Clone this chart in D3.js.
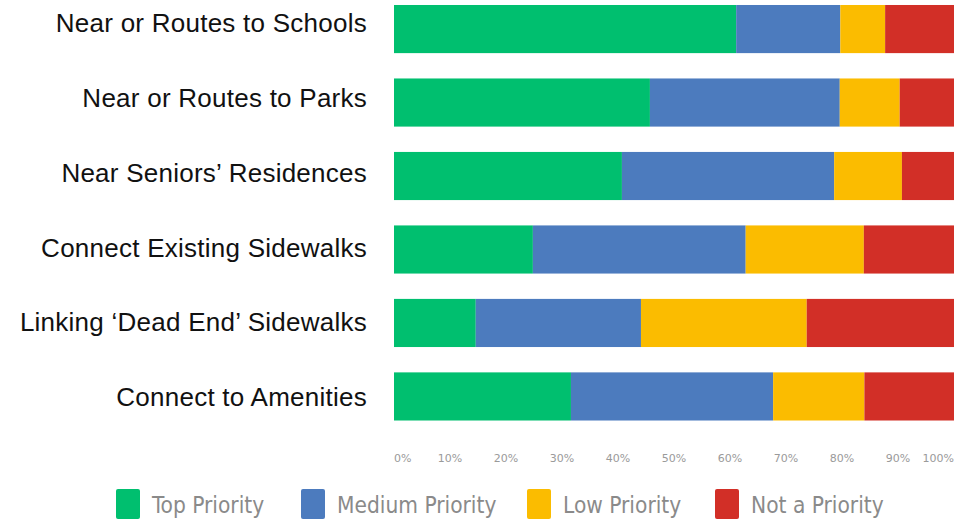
<!DOCTYPE html>
<html><head><meta charset="utf-8">
<script src="https://cdn.jsdelivr.net/npm/d3@7"></script>
<style>body{margin:0;background:#fff}svg{display:block}</style>
</head><body><div id="chart"></div>
<script>
const categories = ["Near or Routes to Schools","Near or Routes to Parks","Near Seniors\u2019 Residences","Connect Existing Sidewalks","Linking \u2018Dead End\u2019 Sidewalks","Connect to Amenities"];
const seriesNames = ["Top Priority","Medium Priority","Low Priority","Not a Priority"];
const topPriority    = [61.1, 45.7, 40.7, 24.8, 14.6, 31.6];
const mediumPriority = [18.6, 33.9, 37.9, 38.0, 29.5, 36.1];
const lowPriority    = [8.0, 10.7, 12.1, 21.1, 29.6, 16.3];
const notPriority    = [12.3, 9.7, 9.3, 16.1, 26.3, 16.0];
const tickValues = [0,10,20,30,40,50,60,70,80,90,100];
const colors = ["#00BF6F","#4C7BBE","#FBBC00","#D22F27"];

const W = 969, H = 519;
const svg = d3.select("#chart").append("svg").attr("width", W).attr("height", H);
const x = d3.scaleLinear().domain([0,100]).range([394,954]);
const y = d3.scaleBand().domain(categories).range([-7.5,433]).paddingInner(0.345).paddingOuter(0.17);
const yLabel = d3.scalePoint().domain(categories).range([23,397]);

const rows = categories.map((c,i)=>({cat:c, Top:topPriority[i], Med:mediumPriority[i], Low:lowPriority[i], Not:notPriority[i]}));
const keys = ["Top","Med","Low","Not"];
const stack = d3.stack().keys(keys)(rows);

svg.append("g").selectAll("g").data(stack).join("g")
  .attr("fill",(d,i)=>colors[i])
  .selectAll("rect").data(d=>d).join("rect")
  .attr("x",d=>x(d[0])).attr("width",d=>x(Math.min(d[1],100))-x(d[0]))
  .attr("y",d=>y(d.data.cat)).attr("height",y.bandwidth());

svg.append("g").selectAll("text").data(categories).join("text")
  .attr("x",367).attr("y",d=>yLabel(d)).attr("dy","0.35em")
  .attr("text-anchor","end").attr("font-family","Liberation Sans, Arial, sans-serif")
  .attr("font-size",26).attr("letter-spacing",0.25).attr("fill","#111").text(d=>d);

svg.append("g").selectAll("text").data(tickValues).join("text")
  .attr("x",d=>x(d)).attr("y",458).attr("dy","0.35em")
  .attr("text-anchor",d=>d===0?"start":(d===100?"end":"middle"))
  .attr("font-family","DejaVu Sans, sans-serif").attr("font-size",11)
  .attr("fill","#9a9a9a").text(d=>d+"%");

const legendX = [116,301,527,715];
const lg = svg.append("g").selectAll("g").data(seriesNames).join("g")
  .attr("transform",(d,i)=>`translate(${legendX[i]},489)`);
lg.append("rect").attr("width",24).attr("height",30).attr("rx",2).attr("fill",(d,i)=>colors[i]);
lg.append("text").attr("x",36).attr("y",16).attr("dy","0.35em")
  .attr("font-family","DejaVu Sans Condensed, DejaVu Sans, sans-serif").attr("font-weight",300)
  .attr("font-size",22.5).attr("fill","#8a8a8a").text(d=>d);
</script></body></html>
